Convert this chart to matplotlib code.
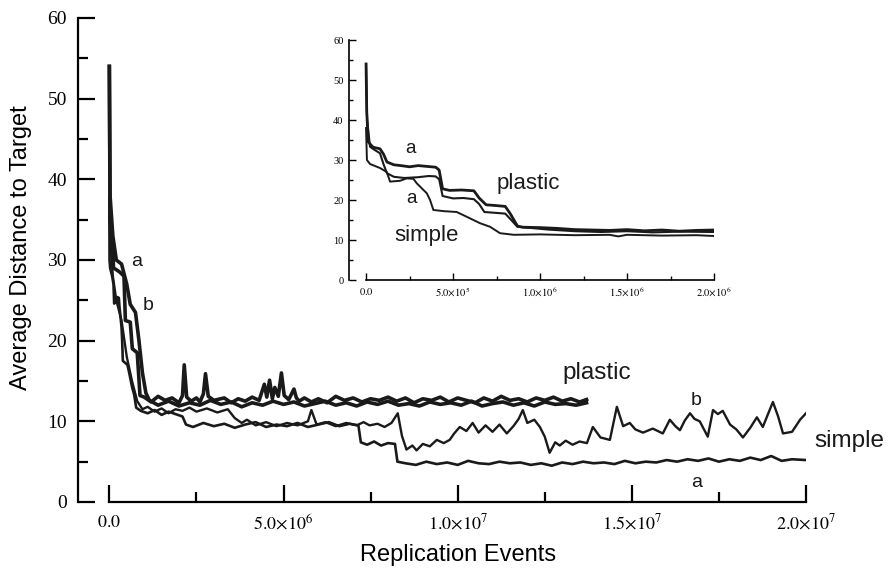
import matplotlib
matplotlib.use("Agg")
import matplotlib.pyplot as plt
from matplotlib.ticker import FixedLocator, MultipleLocator

plt.rcParams['mathtext.fontset'] = 'stix'

# x values are in units of 1e6 replication events
# ---- main plot ----
plastic_a_x = [0, 0.02, 0.08, 0.12, 0.2, 0.3, 0.42, 0.46, 0.6, 0.66, 0.8, 0.88,
               1.0, 1.2, 1.4, 1.6, 1.8, 2.0, 2.1, 2.15, 2.22, 2.35, 2.5, 2.6, 2.7, 2.76, 2.84, 3.0,
               3.3, 3.5, 3.7, 3.9, 4.1, 4.3, 4.45, 4.52, 4.6, 4.68, 4.75, 4.85, 4.94, 5.02, 5.15,
               5.3, 5.37, 5.45, 5.6, 5.8, 6.0, 6.25, 6.5, 6.75, 7.0, 7.25, 7.5, 7.75, 8.0, 8.25,
               8.5, 8.75, 9.0, 9.25, 9.5, 9.75, 10.0, 10.25, 10.5, 10.75, 11.0, 11.25, 11.5, 11.75,
               12.0, 12.25, 12.5, 12.75, 13.0, 13.25, 13.5, 13.7]
plastic_a_y = [54, 35, 33, 29, 28.8, 28.5, 28, 22.5, 22.3, 19, 18.5, 13.2,
               13.0, 12.4, 13.1, 12.6, 12.9, 12.3, 13.2, 17.0, 13.0, 12.5, 12.9, 12.4, 13.4, 15.9, 13.1, 12.6,
               12.9, 12.3, 12.8, 12.5, 13.0, 12.6, 14.6, 13.0, 15.1, 12.8, 14.2, 13.1, 16.0, 13.2, 12.7,
               14.0, 12.9, 12.5, 12.9, 12.4, 12.8, 12.3, 13.1, 12.6, 12.9, 12.4, 12.8, 12.6, 13.0, 12.5,
               12.9, 12.3, 12.8, 12.6, 13.0, 12.4, 12.9, 12.6, 12.3, 12.9, 12.5, 13.1, 12.6, 12.8,
               12.4, 12.9, 12.6, 13.0, 12.5, 12.8, 12.4, 12.7]

plastic_b_x = [0, 0.02, 0.1, 0.2, 0.35, 0.5, 0.6, 0.75, 0.85, 0.95, 1.05,
               1.15, 1.4, 1.7, 2.0, 2.3, 2.6, 2.9, 3.2, 3.5, 3.8, 4.1, 4.4, 4.7, 5.0, 5.3, 5.6,
               5.9, 6.2, 6.5, 6.8, 7.1, 7.4, 7.7, 8.0, 8.3, 8.6, 8.9, 9.2, 9.5, 9.8, 10.1, 10.4,
               10.7, 11.0, 11.3, 11.6, 11.9, 12.2, 12.5, 12.8, 13.1, 13.4, 13.7]
plastic_b_y = [54, 38, 33, 30, 29.5, 27, 24.5, 23.5, 20, 16, 13.5,
               12.6, 12.0, 12.5, 11.9, 12.3, 12.0, 12.6, 12.1, 12.4, 11.8, 12.3, 12.0, 12.5, 12.1, 12.4, 11.9,
               12.2, 12.5, 12.0, 12.3, 11.9, 12.4, 12.1, 12.5, 12.0, 12.2, 11.9, 12.4, 12.1, 12.3, 12.0, 12.5,
               11.9, 12.2, 12.4, 12.0, 12.3, 11.9, 12.4, 12.1, 12.2, 12.0, 12.3]

simple_a_x = [0, 0.005, 0.023, 0.08, 0.119, 0.138, 0.195, 0.234, 0.272, 0.291,
              0.349, 0.368, 0.387, 0.52, 0.58, 0.655, 0.713, 0.77, 0.9, 1.1,
              1.3, 1.5, 1.7, 1.9, 2.1, 2.2, 2.4, 2.7, 3.0, 3.3,
              3.6, 3.9, 4.2, 4.5, 4.8, 5.1, 5.4, 5.7, 6.0, 6.3,
              6.6, 6.9, 7.15, 7.22, 7.4, 7.6, 7.8, 8.0, 8.2, 8.27,
              8.5, 8.8, 9.1, 9.4, 9.7, 10.0, 10.3, 10.6, 10.9, 11.2,
              11.5, 11.8, 12.1, 12.4, 12.7, 13.0, 13.3, 13.6, 13.9, 14.2,
              14.5, 14.8, 15.1, 15.4, 15.7, 16.0, 16.3, 16.6, 16.9, 17.2,
              17.5, 17.8, 18.1, 18.4, 18.7, 19.0, 19.3, 19.6, 20.0]
simple_a_y = [38, 30, 29, 28, 27, 24.6, 24.8, 25.4, 25.3, 24.2,
              21.7, 20, 17.5, 17, 15.8, 14.2, 13.3, 11.7, 11.3, 11.0,
              11.4, 10.8, 11.2, 10.9, 10.6, 9.6, 9.3, 9.8, 9.4, 9.7,
              9.2, 9.6, 9.9, 9.3, 9.6, 9.4, 9.8, 9.3, 9.6, 9.9,
              9.4, 9.7, 9.5, 7.4, 7.1, 7.5, 7.0, 7.3, 7.2, 5.0,
              4.8, 4.6, 5.0, 4.7, 4.9, 4.6, 5.1, 4.8, 4.7, 5.0,
              4.8, 4.9, 4.6, 4.8, 4.5, 4.9, 4.7, 5.0, 4.8, 4.9,
              4.7, 5.1, 4.8, 5.0, 4.9, 5.2, 5.0, 5.3, 5.1, 5.4,
              5.0, 5.3, 5.1, 5.5, 5.2, 5.7, 5.1, 5.3, 5.2]

simple_b_x = [0, 0.02, 0.1, 0.2, 0.35, 0.5, 0.65, 0.8, 0.95, 1.1,
              1.3, 1.5, 1.7, 1.9, 2.1, 2.3, 2.5, 2.8, 3.1, 3.4,
              3.6, 3.8, 3.95, 4.2, 4.5, 4.8, 5.1, 5.4, 5.7, 5.8,
              5.95, 6.2, 6.5, 6.8, 7.1, 7.3, 7.47, 7.7, 7.9, 8.1,
              8.28, 8.4, 8.53, 8.7, 8.82, 9.0, 9.2, 9.4, 9.6, 9.77,
              9.9, 10.06, 10.25, 10.43, 10.6, 10.8, 11.0, 11.2, 11.41, 11.6,
              11.75, 11.87, 12.0, 12.2, 12.36, 12.5, 12.64, 12.8, 12.93, 13.1,
              13.3, 13.5, 13.71, 13.88, 14.1, 14.37, 14.57, 14.75, 14.94, 15.1,
              15.32, 15.6, 15.89, 16.09, 16.25, 16.38, 16.52, 16.67, 16.8, 16.95,
              17.18, 17.33, 17.47, 17.61, 17.82, 18.0, 18.19, 18.4, 18.59, 18.76,
              18.9, 19.05, 19.2, 19.34, 19.6, 19.83, 20.0]
simple_b_y = [38, 33, 28, 25, 22.5, 18, 15, 12.5, 11.5, 11.8,
              11.2, 11.6, 11.0, 11.5, 11.3, 11.7, 11.2, 11.6, 11.1, 11.5,
              10.4, 9.8, 10.2, 9.5, 9.9, 9.4, 9.8, 9.5, 10.0, 11.4,
              9.6, 9.9, 9.4, 9.8, 9.5, 9.9, 9.5, 9.7, 9.3, 9.8,
              11.0, 8.2, 6.5, 7.0, 6.4, 7.2, 6.9, 7.7, 7.3, 7.7,
              8.5, 9.3, 8.8, 9.8, 8.6, 9.5, 8.7, 9.6, 8.5, 9.4,
              10.3, 11.4, 9.8, 10.2, 9.3, 8.1, 6.1, 7.4, 7.0, 7.6,
              7.1, 7.5, 7.3, 9.3, 8.0, 7.7, 11.8, 9.4, 9.8, 9.0,
              8.6, 9.1, 8.5, 10.2, 9.4, 8.9, 10.1, 11.0, 10.3, 10.0,
              8.1, 11.4, 10.9, 11.3, 9.6, 9.0, 8.0, 9.2, 10.5, 9.3,
              10.8, 12.4, 10.6, 8.5, 8.7, 10.2, 11.0]

main_xticks = [0, 5, 10, 15, 20]
main_xlabels = [r'$0.0$', r'$5.0{\times}10^{6}$', r'$1.0{\times}10^{7}$',
                r'$1.5{\times}10^{7}$', r'$2.0{\times}10^{7}$']

# ---- inset (first 2e6 events) ----
in_top_x = [0, 0.004, 0.013, 0.04, 0.08, 0.1, 0.12, 0.16, 0.2, 0.25, 0.3, 0.35, 0.4, 0.42,
            0.44, 0.48, 0.55, 0.62, 0.65, 0.69, 0.75, 0.8, 0.83, 0.87, 0.9, 1.0, 1.1, 1.2,
            1.3, 1.4, 1.5, 1.6, 1.7, 1.8, 1.9, 2.0]
in_top_y = [54, 42, 34.5, 33.2, 32.8, 31.5, 29.5, 28.8, 28.6, 28.3, 28.6, 28.4, 28.2, 27.5,
            22.8, 22.4, 22.5, 22.3, 20.5, 18.8, 18.6, 18.4, 16.5, 13.5, 13.2, 13.1, 12.9, 12.6,
            12.5, 12.4, 12.6, 12.3, 12.5, 12.2, 12.4, 12.5]
in_mid_x = [0, 0.006, 0.023, 0.05, 0.08, 0.1, 0.12, 0.16, 0.22, 0.3, 0.36, 0.4, 0.42, 0.44,
            0.5, 0.56, 0.62, 0.65, 0.68, 0.74, 0.8, 0.83, 0.87, 0.95, 1.05, 1.2, 1.35, 1.5,
            1.65, 1.8, 2.0]
in_mid_y = [54, 40, 33.3, 32.5, 31.7, 29, 26.7, 25.8, 25.5, 25.7, 26.0, 25.9, 25.2, 21.0,
            20.4, 20.5, 20.2, 19.0, 17.0, 16.8, 16.6, 15.2, 13.3, 13.0, 12.6, 12.2, 12.0, 12.2,
            11.9, 12.1, 12.0]
in_simple_x = [0, 0.005, 0.023, 0.08, 0.119, 0.138, 0.195, 0.234, 0.272, 0.291, 0.33, 0.349,
               0.368, 0.387, 0.45, 0.521, 0.579, 0.655, 0.713, 0.77, 0.85, 1.0, 1.2, 1.4,
               1.45, 1.5, 1.7, 1.9, 2.0]
in_simple_y = [38, 30, 29, 28, 27, 24.6, 24.8, 25.4, 25.3, 24.2, 22.5, 21.7,
               20, 17.5, 17.2, 17, 15.8, 14.2, 13.3, 11.7, 11.3, 11.4, 11.2, 11.3,
               10.9, 11.3, 11.1, 11.2, 11.0]

in_xticks = [0, 0.5, 1.0, 1.5, 2.0]
in_xlabels = [r'$0.0$', r'$5.0{\times}10^{5}$', r'$1.0{\times}10^{6}$',
              r'$1.5{\times}10^{6}$', r'$2.0{\times}10^{6}$']

W, H = 888, 574
fig = plt.figure(figsize=(W / 100, H / 100), dpi=100)

# main axes
ax = fig.add_axes([78 / W, 1 - 502 / H, (806 - 78) / W, (502 - 18) / H])
ax.plot(plastic_b_x, plastic_b_y, color='#1a1a1a', lw=2.6)
ax.plot(plastic_a_x, plastic_a_y, color='#1a1a1a', lw=2.6)
ax.plot(simple_b_x, simple_b_y, color='#1a1a1a', lw=1.7)
ax.plot(simple_a_x, simple_a_y, color='#1a1a1a', lw=1.9)

ax.set_xlim(-0.9, 20)
ax.set_ylim(0, 60)
for s in ['top', 'right']:
    ax.spines[s].set_visible(False)
for s in ['left', 'bottom']:
    ax.spines[s].set_linewidth(1.6)
ax.spines['bottom'].set_bounds(0, 20)
ax.xaxis.set_major_locator(FixedLocator(main_xticks))
ax.set_xticklabels(main_xlabels, fontsize=13)
ax.xaxis.set_minor_locator(MultipleLocator(2.5))
ax.yaxis.set_major_locator(MultipleLocator(10))
ax.yaxis.set_minor_locator(MultipleLocator(5))
ax.tick_params(which='both', direction='in', width=1.6)
ax.tick_params(which='major', length=12)
ax.tick_params(which='minor', length=7)
ax.tick_params(axis='x', pad=8)
ax.tick_params(axis='y', pad=8)
for lab in ax.get_yticklabels():
    lab.set_fontfamily('Liberation Serif')
    lab.set_fontsize(14)

ax.set_xlabel('Replication Events', fontsize=17, family='Liberation Sans')
ax.set_ylabel('Average Distance to Target', fontsize=17, family='Liberation Sans')
ax.xaxis.set_label_coords((458 - 78) / (806 - 78), (502 - 544) / 484)
ax.yaxis.set_label_coords((32 - 78) / (806 - 78), (502 - 248) / 484)

txt = dict(family='Liberation Sans', color='#1a1a1a', clip_on=False)
ax.text(14.0, 16.0, 'plastic', fontsize=17.5, ha='center', va='center', **txt)
ax.text(20.25, 7.6, 'simple', fontsize=17.5, ha='left', va='center', **txt)
ax.text(16.84, 12.6, 'b', fontsize=14, ha='center', va='center', **txt)
ax.text(16.87, 2.4, 'a', fontsize=14, ha='center', va='center', **txt)
ax.text(0.78, 29.8, 'a', fontsize=14, ha='center', va='center', **txt)
ax.text(1.10, 24.3, 'b', fontsize=14, ha='center', va='center', **txt)

# inset axes
ins = fig.add_axes([349 / W, 1 - 280 / H, (714 - 349) / W, 240 / H])
ins.plot(in_mid_x, in_mid_y, color='#1a1a1a', lw=1.5)
ins.plot(in_top_x, in_top_y, color='#1a1a1a', lw=2.0)
ins.plot(in_simple_x, in_simple_y, color='#1a1a1a', lw=1.4)
ins.set_xlim(-0.098, 2.0)
ins.set_ylim(0, 60)
for s in ['top', 'right']:
    ins.spines[s].set_visible(False)
for s in ['left', 'bottom']:
    ins.spines[s].set_linewidth(1.2)
ins.spines['bottom'].set_bounds(0, 2.0)
ins.xaxis.set_major_locator(FixedLocator(in_xticks))
ins.set_xticklabels(in_xlabels, fontsize=7.5)
ins.xaxis.set_minor_locator(MultipleLocator(0.25))
ins.yaxis.set_major_locator(MultipleLocator(10))
ins.yaxis.set_minor_locator(MultipleLocator(5))
ins.tick_params(which='both', direction='in', width=1.0)
ins.tick_params(which='major', length=5)
ins.tick_params(which='minor', length=3)
ins.tick_params(axis='both', pad=4)
for lab in ins.get_yticklabels():
    lab.set_fontfamily('Liberation Serif')
    lab.set_fontsize(7.5)

ins.text(0.253, 32.9, 'a', fontsize=13.5, ha='center', va='center', **txt)
ins.text(0.259, 20.4, 'a', fontsize=13.5, ha='center', va='center', **txt)
ins.text(0.933, 24.2, 'plastic', fontsize=16, ha='center', va='center', **txt)
ins.text(0.349, 11.0, 'simple', fontsize=16, ha='center', va='center', **txt)

fig.savefig('out.png', dpi=100)
